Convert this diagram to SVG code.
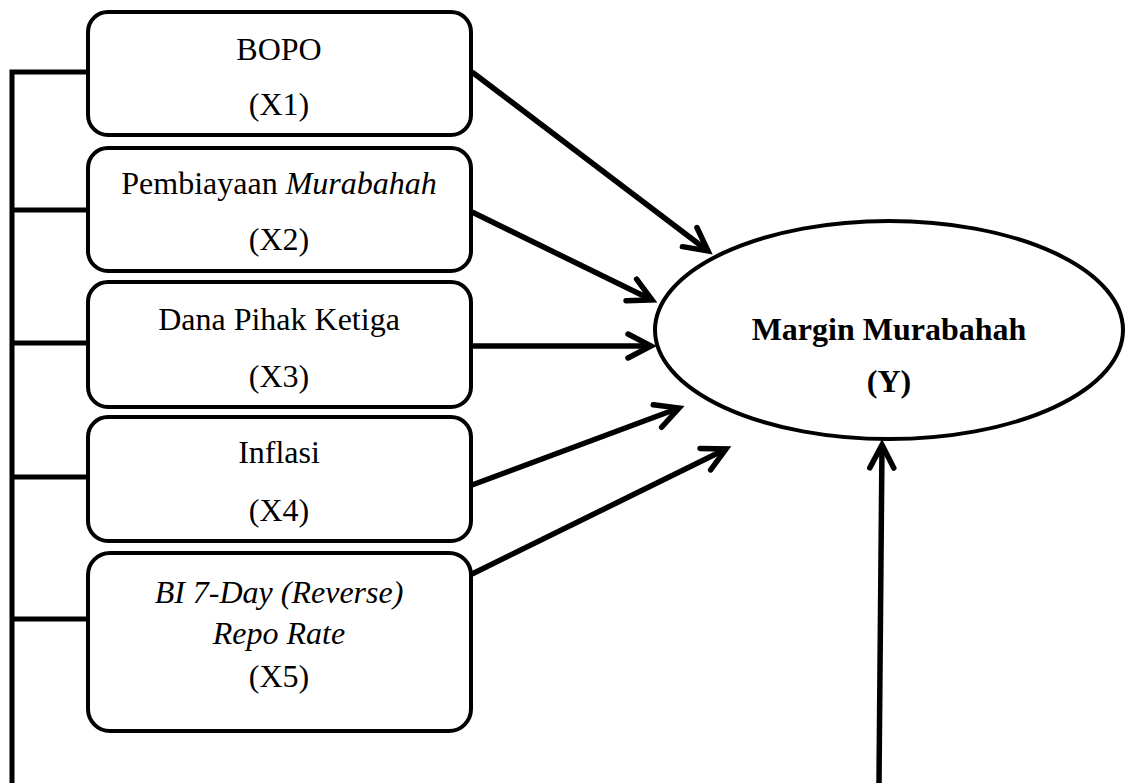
<svg xmlns="http://www.w3.org/2000/svg" width="1132" height="783" viewBox="0 0 1132 783">
<style>
.box{fill:#fff;stroke:#000;stroke-width:4}
.t{font-family:"Liberation Serif","Times New Roman",serif;font-size:32px;fill:#000;text-anchor:middle}
.b{font-weight:bold}
.i{font-style:italic}
.ln{stroke:#000;stroke-width:5;fill:none}
.ar{stroke:#000;stroke-width:5.5;fill:none;marker-end:url(#ah)}
</style>
<defs>
<marker id="ah" markerUnits="userSpaceOnUse" markerWidth="40" markerHeight="40" viewBox="-30 -20 40 40" refX="0" refY="0" orient="auto">
<path d="M-23,-12 L0,0 L-23,12" fill="none" stroke="#000" stroke-width="5.5" stroke-linecap="round" stroke-linejoin="miter"/>
</marker>
</defs>
<rect width="1132" height="783" fill="#fff"/>
<g id="connectors">
<path class="ln" d="M12,783 V72 H88 M12,210 H88 M12,343 H88 M12,477 H88 M12,619 H88"/>
<line class="ar" x1="472" y1="72" x2="708" y2="251"/>
<line class="ar" x1="472" y1="212" x2="652" y2="300"/>
<line class="ar" x1="472" y1="346" x2="651" y2="346"/>
<line class="ar" x1="472" y1="485" x2="679" y2="408"/>
<line class="ar" x1="472" y1="574" x2="726" y2="449"/>
<line class="ar" x1="879" y1="783" x2="882" y2="445"/>
</g>
<g id="x1">
<rect class="box" x="88" y="12" width="383" height="123" rx="20"/>
<text class="t" x="279" y="60">BOPO</text>
<text class="t" x="279" y="115">(X1)</text>
</g>
<g id="x2">
<rect class="box" x="88" y="148" width="383" height="123" rx="20"/>
<text class="t" x="279" y="194">Pembiayaan <tspan class="i">Murabahah</tspan></text>
<text class="t" x="279" y="250">(X2)</text>
</g>
<g id="x3">
<rect class="box" x="88" y="282" width="383" height="125" rx="20"/>
<text class="t" x="279" y="330">Dana Pihak Ketiga</text>
<text class="t" x="279" y="387">(X3)</text>
</g>
<g id="x4">
<rect class="box" x="88" y="417" width="383" height="124" rx="20"/>
<text class="t" x="279" y="463">Inflasi</text>
<text class="t" x="279" y="521">(X4)</text>
</g>
<g id="x5">
<rect class="box" x="88" y="553" width="383" height="178" rx="22"/>
<text class="t i" x="279" y="603">BI 7-Day (Reverse)</text>
<text class="t i" x="279" y="644">Repo Rate</text>
<text class="t" x="279" y="687">(X5)</text>
</g>
<g id="y">
<ellipse class="box" cx="889" cy="330" rx="234" ry="109"/>
<text class="t b" x="889" y="340">Margin Murabahah</text>
<text class="t b" x="889" y="392">(Y)</text>
</g>
</svg>
